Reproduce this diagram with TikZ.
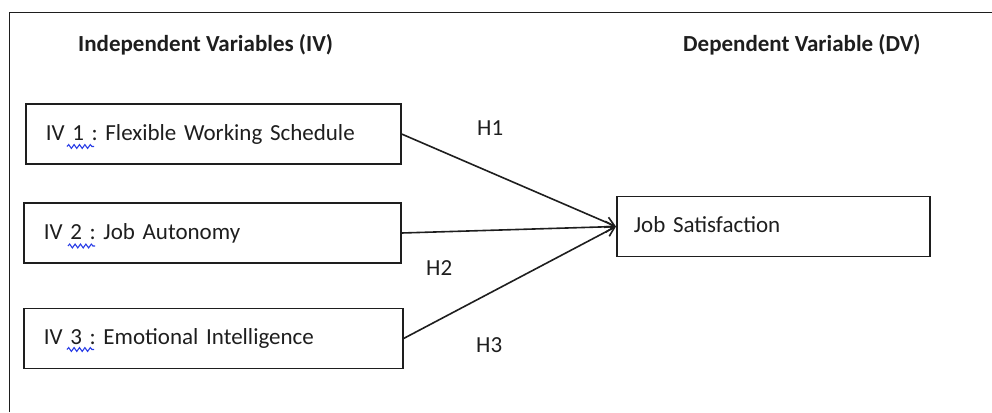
\documentclass[tikz,border=0pt]{standalone}
\usepackage{fontspec}
\setmainfont{Carlito}
\usetikzlibrary{arrows.meta,decorations.pathmorphing}
\definecolor{ink}{RGB}{30,30,30}
\definecolor{wave}{RGB}{40,60,230}
\frenchspacing
\newcommand\boxfont{\fontsize{23}{27}\selectfont\frenchspacing}
\tikzset{
  varbox/.style={draw=ink, line width=1.6pt, anchor=west, minimum height=60pt,
    text height=17pt, text depth=5pt, align=left, inner ysep=0pt, text=ink,
    font=\boxfont},
  head/.style={anchor=base west, inner sep=0pt, text=ink,
    font=\fontsize{23}{27}\selectfont\bfseries},
  hlabel/.style={anchor=base west, inner sep=0pt, text=ink,
    font=\fontsize{23}{27}\selectfont},
  link/.style={draw=ink, line width=1.6pt, -{Straight Barb[length=9pt,width=11pt,line width=1.6pt]}},
  spell/.style={draw=wave, line width=1.1pt, decorate,
    decoration={snake, segment length=5.4pt, amplitude=1.9pt}},
  frame/.style={draw=ink, line width=1.6pt}
}
\begin{document}
\begin{tikzpicture}[x=1pt,y=-1pt]
\useasboundingbox (0,0) rectangle (992,412);
% outer frame (cut at right and bottom)
\draw[frame] (9.5,412) -- (9.5,12.5) -- (992,12.5);
% headings
\node[head] (hiv) at (78,52) {Independent Variables (IV)};
\node[head] (hdv) at (683,52) {Dependent Variable (DV)};
% boxes
\node[varbox, text width=335pt, inner xsep=20pt] (iv1) at (25,134) {IV 1 : Flexible Working Schedule};
\node[varbox, text width=337pt, inner xsep=20pt] (iv2) at (23,233) {IV 2 : Job Autonomy};
\node[varbox, text width=339pt, inner xsep=20pt] (iv3) at (23,338.5) {IV 3 : Emotional Intelligence};
\node[varbox, text width=279pt, inner xsep=17pt] (dv) at (616,226.5) {Job Satisfaction};
% spell-check squiggles
\draw[spell] (67,146.5) -- (94,146.5);
\draw[spell] (68,246) -- (95,246);
\draw[spell] (67,349.5) -- (94,349.5);
% connectors
\draw[link] (iv1.east) -- (dv.west);
\draw[link] (iv2.east) -- (dv.west);
\draw[link] (iv3.east) -- (dv.west);
% hypothesis labels
\node[hlabel] (h1) at (477,135) {H1};
\node[hlabel] (h2) at (426,275) {H2};
\node[hlabel] (h3) at (476,352) {H3};
\end{tikzpicture}
\end{document}
